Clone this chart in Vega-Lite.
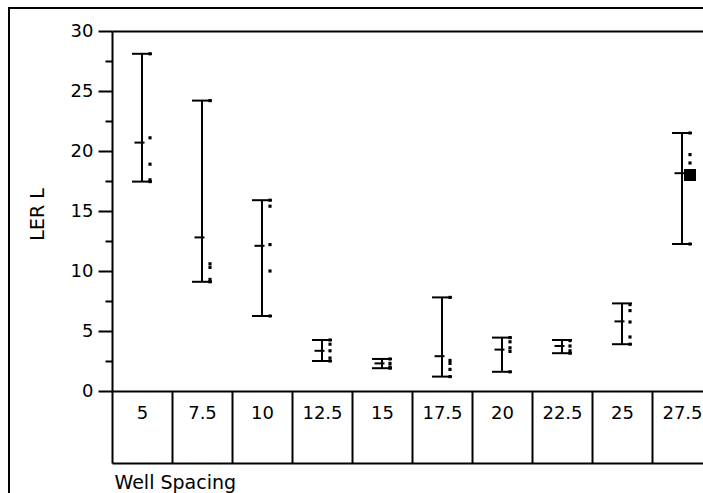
{
  "$schema": "https://vega.github.io/schema/vega-lite/v6.json",
  "width": 720,
  "height": 500,
  "autosize": {"type": "none"},
  "padding": {"left": 9, "top": 8, "right": -26, "bottom": -15},
  "background": "white",
  "view": {"stroke": "black", "strokeWidth": 2, "fill": "white"},
  "config": {
    "font": "DejaVu Sans",
    "axis": {
      "domainColor": "black",
      "tickColor": "black",
      "labelColor": "black",
      "titleColor": "black",
      "domainWidth": 2,
      "tickWidth": 2,
      "labelFont": "DejaVu Sans",
      "titleFont": "DejaVu Sans",
      "labelFontSize": 18,
      "titleFontSize": 19,
      "titleFontWeight": "normal",
      "grid": false
    }
  },
  "datasets": {
    "stats": [
      {"group": "5", "lo": 17.45, "hi": 28.1, "mean": 20.7},
      {"group": "7.5", "lo": 9.1, "hi": 24.2, "mean": 12.8},
      {"group": "10", "lo": 6.25, "hi": 15.9, "mean": 12.1},
      {"group": "12.5", "lo": 2.5, "hi": 4.25, "mean": 3.35},
      {"group": "15", "lo": 1.9, "hi": 2.67, "mean": 2.3},
      {"group": "17.5", "lo": 1.2, "hi": 7.8, "mean": 2.9},
      {"group": "20", "lo": 1.6, "hi": 4.45, "mean": 3.45},
      {"group": "22.5", "lo": 3.15, "hi": 4.25, "mean": 3.75},
      {"group": "25", "lo": 3.9, "hi": 7.3, "mean": 5.8},
      {"group": "27.5", "lo": 12.25, "hi": 21.5, "mean": 18.15}
    ],
    "points": [
      {"group": "5", "value": 28.1, "selected": false},
      {"group": "5", "value": 21.1, "selected": false},
      {"group": "5", "value": 18.9, "selected": false},
      {"group": "5", "value": 17.6, "selected": false},
      {"group": "5", "value": 17.45, "selected": false},
      {"group": "7.5", "value": 24.2, "selected": false},
      {"group": "7.5", "value": 10.6, "selected": false},
      {"group": "7.5", "value": 10.3, "selected": false},
      {"group": "7.5", "value": 9.3, "selected": false},
      {"group": "7.5", "value": 9.1, "selected": false},
      {"group": "10", "value": 15.9, "selected": false},
      {"group": "10", "value": 15.4, "selected": false},
      {"group": "10", "value": 12.2, "selected": false},
      {"group": "10", "value": 10.0, "selected": false},
      {"group": "10", "value": 6.25, "selected": false},
      {"group": "12.5", "value": 4.25, "selected": false},
      {"group": "12.5", "value": 3.9, "selected": false},
      {"group": "12.5", "value": 3.35, "selected": false},
      {"group": "12.5", "value": 2.75, "selected": false},
      {"group": "12.5", "value": 2.5, "selected": false},
      {"group": "15", "value": 2.67, "selected": false},
      {"group": "15", "value": 2.3, "selected": false},
      {"group": "15", "value": 2.0, "selected": false},
      {"group": "15", "value": 1.9, "selected": false},
      {"group": "17.5", "value": 7.8, "selected": false},
      {"group": "17.5", "value": 2.55, "selected": false},
      {"group": "17.5", "value": 2.3, "selected": false},
      {"group": "17.5", "value": 1.8, "selected": false},
      {"group": "17.5", "value": 1.2, "selected": false},
      {"group": "20", "value": 4.45, "selected": false},
      {"group": "20", "value": 4.1, "selected": false},
      {"group": "20", "value": 3.6, "selected": false},
      {"group": "20", "value": 3.3, "selected": false},
      {"group": "20", "value": 1.6, "selected": false},
      {"group": "22.5", "value": 4.2, "selected": false},
      {"group": "22.5", "value": 3.75, "selected": false},
      {"group": "22.5", "value": 3.35, "selected": false},
      {"group": "22.5", "value": 3.15, "selected": false},
      {"group": "25", "value": 7.2, "selected": false},
      {"group": "25", "value": 6.7, "selected": false},
      {"group": "25", "value": 5.75, "selected": false},
      {"group": "25", "value": 4.5, "selected": false},
      {"group": "25", "value": 3.9, "selected": false},
      {"group": "27.5", "value": 21.5, "selected": false},
      {"group": "27.5", "value": 19.7, "selected": false},
      {"group": "27.5", "value": 19.0, "selected": false},
      {"group": "27.5", "value": 18.0, "selected": true},
      {"group": "27.5", "value": 12.25, "selected": false}
    ]
  },
  "resolve": {"axis": {"x": "independent", "y": "independent"}},
  "layer": [
    {
      "data": {"name": "stats"},
      "mark": {"type": "rule", "strokeWidth": 2, "color": "black"},
      "encoding": {
        "x": {
          "field": "group",
          "type": "ordinal",
          "scale": {
            "type": "band",
            "domain": ["5", "7.5", "10", "12.5", "15", "17.5", "20", "22.5", "25", "27.5"],
            "range": [103, 703],
            "paddingInner": 0,
            "paddingOuter": 0
          },
          "axis": {
            "orient": "bottom",
            "offset": -117,
            "title": "Well Spacing",
            "tickBand": "extent",
            "tickSize": 72,
            "labelPadding": -45,
            "labelBaseline": "alphabetic",
            "labelAngle": 0,
            "titleX": 105,
            "titleY": 97,
            "titleAlign": "left",
            "titleBaseline": "alphabetic"
          }
        },
        "y": {
          "field": "lo",
          "type": "quantitative",
          "scale": {"domain": [0, 30], "range": [383, 23], "nice": false, "zero": false},
          "axis": {
            "orient": "left",
            "offset": -103,
            "values": [0, 5, 10, 15, 20, 25, 30],
            "tickSize": 14,
            "labelPadding": 5,
            "title": "LER L",
            "titleAngle": 270,
            "titleX": -69,
            "titleY": 206,
            "titleAlign": "center",
            "titleBaseline": "alphabetic"
          }
        },
        "y2": {"field": "hi"}
      }
    },
    {
      "data": {"name": "stats"},
      "mark": {"type": "tick", "orient": "horizontal", "size": 20, "thickness": 2, "color": "black", "opacity": 1},
      "encoding": {
        "x": {
          "field": "group",
          "type": "ordinal",
          "axis": {"orient": "top", "offset": -23, "title": null, "labels": false, "ticks": false, "domain": true}
        },
        "y": {
          "field": "lo",
          "type": "quantitative",
          "axis": {
            "orient": "left",
            "offset": -103,
            "values": [2.5, 7.5, 12.5, 17.5, 22.5, 27.5],
            "tickSize": 7,
            "labels": false,
            "domain": false,
            "title": null
          }
        }
      }
    },
    {
      "data": {"name": "stats"},
      "mark": {"type": "tick", "orient": "horizontal", "size": 20, "thickness": 2, "color": "black", "opacity": 1},
      "encoding": {
        "x": {
          "field": "group",
          "type": "ordinal",
          "axis": {"orient": "bottom", "offset": -45, "title": null, "labels": false, "ticks": false, "domain": true}
        },
        "y": {"field": "hi", "type": "quantitative", "axis": null}
      }
    },
    {
      "data": {"name": "stats"},
      "mark": {"type": "tick", "orient": "horizontal", "size": 10, "thickness": 2, "xOffset": -2.5, "color": "black", "opacity": 1},
      "encoding": {
        "x": {"field": "group", "type": "ordinal", "axis": null},
        "y": {"field": "mean", "type": "quantitative", "axis": null}
      }
    },
    {
      "data": {"name": "points"},
      "mark": {"type": "square", "filled": true, "color": "black", "opacity": 1, "xOffset": 8},
      "encoding": {
        "x": {"field": "group", "type": "ordinal", "axis": null},
        "y": {"field": "value", "type": "quantitative", "axis": null},
        "size": {"condition": {"test": "datum.selected", "value": 144}, "value": 10}
      }
    }
  ]
}
